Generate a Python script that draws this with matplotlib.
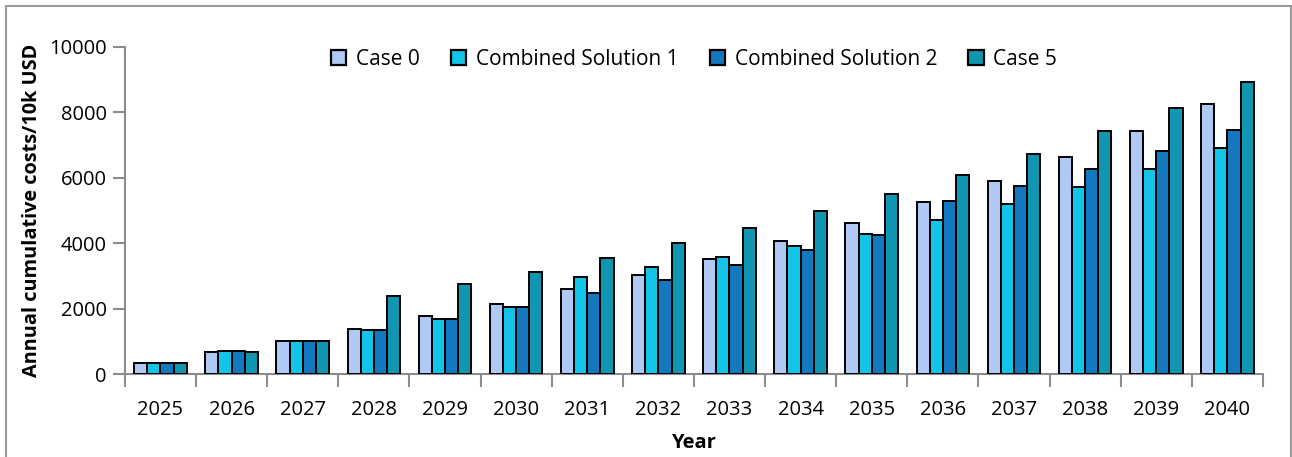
import matplotlib
matplotlib.use("Agg")
import matplotlib.pyplot as plt
import numpy as np
from matplotlib.ticker import FixedLocator

plt.rcParams['font.family'] = ['Open Sans', 'DejaVu Sans']

years = ["2025", "2026", "2027", "2028", "2029", "2030", "2031", "2032",
         "2033", "2034", "2035", "2036", "2037", "2038", "2039", "2040"]
case0 = [330, 670, 1000, 1375, 1765, 2150, 2590, 3040, 3525, 4055, 4630, 5250, 5910, 6645, 7420, 8255]
comb1 = [330, 710, 1000, 1345, 1690, 2050, 2975, 3270, 3580, 3915, 4270, 4710, 5190, 5720, 6280, 6910]
comb2 = [330, 710, 1000, 1345, 1690, 2050, 2465, 2875, 3325, 3780, 4240, 5290, 5760, 6260, 6830, 7460]
case5 = [330, 670, 1000, 2375, 2740, 3130, 3545, 3995, 4465, 4975, 5505, 6095, 6740, 7420, 8145, 8930]
series_names = ["Case 0", "Combined Solution 1", "Combined Solution 2", "Case 5"]
colors = ["#b0c8f4", "#14c4e8", "#1478be", "#1096b0"]

fig = plt.figure(figsize=(12.92, 4.57), dpi=100)
ax = fig.add_axes([0.0967, 0.1816, 0.8808, 0.7156])

x = np.arange(len(years))
w = 0.185
data = [case0, comb1, comb2, case5]
for i, (vals, name, c) in enumerate(zip(data, series_names, colors)):
    ax.bar(x + (i - 1.5) * w, vals, width=w, color=c, edgecolor="black",
           linewidth=1.4, label=name, zorder=3)

ax.set_xlim(-0.5, len(years) - 0.5)
ax.set_ylim(0, 10000)
ax.set_yticks(np.arange(0, 10001, 2000))
ax.set_xticks(x)
ax.set_xticklabels(years)
ax.xaxis.set_minor_locator(FixedLocator(np.arange(-0.5, len(years), 1.0)))
ax.tick_params(axis='x', which='major', length=0, pad=19, labelsize=14.5)
ax.tick_params(axis='x', which='minor', length=9, width=1.5, color="#8c8c8c")
ax.tick_params(axis='y', which='major', length=9, width=1.5, color="#8c8c8c", labelsize=14.5, pad=4)

for s in ["top", "right"]:
    ax.spines[s].set_visible(False)
for s in ["left", "bottom"]:
    ax.spines[s].set_color("#8c8c8c")
    ax.spines[s].set_linewidth(1.5)

ax.set_xlabel("Year", fontsize=14.5, fontweight="bold", labelpad=9)
ax.set_ylabel("Annual cumulative costs/10k USD", fontsize=14.3, fontweight="bold", labelpad=5)

leg = ax.legend(loc="center", bbox_to_anchor=(0.5, 0.962), ncol=4, frameon=False,
                fontsize=15, handlelength=0.75, handleheight=0.75, handletextpad=0.45,
                columnspacing=1.5)
for h in leg.legend_handles:
    h.set_linewidth(1.6)

# outer border
fig.patches.append(plt.Rectangle((6/1292, -0.01), (1291-6)/1292, 1 - 6/457 + 0.01,
                                 transform=fig.transFigure, fill=False,
                                 edgecolor="#9a9a9a", linewidth=1.5))

fig.savefig("out.png", dpi=100)
